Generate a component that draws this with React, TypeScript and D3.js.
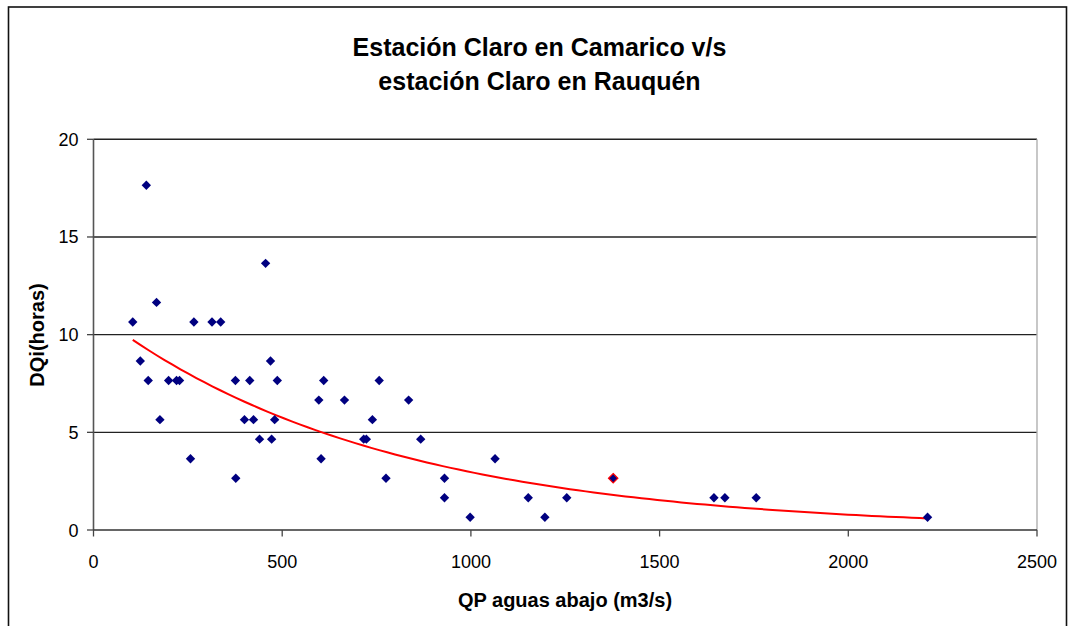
import React from "react";
import * as d3 from "d3";

const titleLines = ["Estación Claro en Camarico v/s", "estación Claro en Rauquén"];
const xAxisTitle = "QP aguas abajo (m3/s)";
const yAxisTitle = "DQi(horas)";

const xTicks = [0, 500, 1000, 1500, 2000, 2500];
const yTicks = [0, 5, 10, 15, 20];

// QP aguas abajo (m3/s)
const qpValues = [
  104, 124, 140, 145, 167, 176, 199, 220, 228, 257,
  266, 314, 337, 376, 377, 400, 414, 424, 440, 456,
  469, 472, 480, 487, 597, 603, 610, 665, 716, 723,
  739, 757, 775, 835, 867, 930, 930, 998, 1064, 1152,
  1196, 1254, 1377, 1644, 1673, 1756, 2210,
];
// DQi (horas)
const dqiValues = [
  10.65, 8.65, 17.65, 7.65, 11.65, 5.65, 7.65, 7.65, 7.65, 3.65,
  10.65, 10.65, 10.65, 7.65, 2.65, 5.65, 7.65, 5.65, 4.65, 13.65,
  8.65, 4.65, 5.65, 7.65, 6.65, 3.65, 7.65, 6.65, 4.65, 4.65,
  5.65, 7.65, 2.65, 6.65, 4.65, 2.65, 1.65, 0.65, 3.65, 1.65,
  0.65, 1.65, 2.65, 1.65, 1.65, 1.65, 0.65,
];
// index of the point drawn with a red outline
const highlighted = [42];

const W = 1068;
const H = 626;
const FONT = "'Liberation Sans', Arial, Helvetica, sans-serif";

export default function App() {
  const x = d3.scaleLinear().domain([0, 2500]).range([93.5, 1037]);
  const y = d3.scaleLinear().domain([0, 20]).range([530, 139.3]);

  const pts = qpValues.map((q, i) => ({ q, d: dqiValues[i], i }));

  // Exponential trendline fitted (least squares on ln y), like Excel
  const mx = d3.mean(pts, (p) => p.q) as number;
  const my = d3.mean(pts, (p) => Math.log(p.d)) as number;
  let sxy = 0;
  let sxx = 0;
  pts.forEach((p) => {
    sxy += (p.q - mx) * (Math.log(p.d) - my);
    sxx += (p.q - mx) * (p.q - mx);
  });
  const b = sxy / sxx;
  const lnA = my - b * mx;
  const [xmin, xmax] = d3.extent(qpValues) as [number, number];
  const trendX = d3.range(0, 101).map((k) => xmin + ((xmax - xmin) * k) / 100);
  const trendLine = d3
    .line<number>()
    .x((v) => x(v))
    .y((v) => y(Math.exp(lnA + b * v)))(trendX);

  const diamond = d3.symbol().type(d3.symbolDiamond2).size(56)() as string;

  return (
    <svg
      width={W}
      height={H}
      style={{ position: "absolute", left: 0, top: 0, background: "#fff" }}
      fontFamily={FONT}
    >
      <rect x={0} y={0} width={W} height={H} fill="#fff" />
      {/* outer chart border */}
      <rect x={8.5} y={7} width={1058} height={640} fill="none" stroke="#111" strokeWidth={1.6} />

      {/* title */}
      {titleLines.map((t, i) => (
        <text
          key={i}
          x={539.5}
          y={55.7 + i * 34}
          textAnchor="middle"
          fontSize={25}
          fontWeight="bold"
          fill="#000"
        >
          {t}
        </text>
      ))}

      {/* gridlines */}
      {yTicks
        .filter((t) => t > 0)
        .map((t) => (
          <line key={t} x1={x(0)} x2={x(2500)} y1={y(t)} y2={y(t)} stroke="#222" strokeWidth={1.4} />
        ))}
      {/* right plot border */}
      <line x1={x(2500)} x2={x(2500)} y1={y(20)} y2={y(0)} stroke="#b0b0b0" strokeWidth={1.4} />

      {/* axes */}
      <line x1={x(0)} x2={x(0)} y1={y(20)} y2={y(0)} stroke="#555" strokeWidth={1.6} />
      <line x1={x(0)} x2={x(2500)} y1={y(0)} y2={y(0)} stroke="#333" strokeWidth={1.6} />
      {yTicks.map((t) => (
        <g key={t}>
          <line x1={x(0) - 6.5} x2={x(0)} y1={y(t)} y2={y(t)} stroke="#444" strokeWidth={1.3} />
          <text x={78.5} y={y(t) + 6.5} textAnchor="end" fontSize={18} fill="#000">
            {t}
          </text>
        </g>
      ))}
      {xTicks.map((t) => (
        <g key={t}>
          <line x1={x(t)} x2={x(t)} y1={y(0)} y2={y(0) + 6.5} stroke="#444" strokeWidth={1.3} />
          <text x={x(t)} y={568} textAnchor="middle" fontSize={18} fill="#000">
            {t}
          </text>
        </g>
      ))}

      {/* axis titles */}
      <text x={565} y={607} textAnchor="middle" fontSize={20} fontWeight="bold" fill="#000">
        {xAxisTitle}
      </text>
      <text
        transform={`translate(44,335) rotate(-90)`}
        textAnchor="middle"
        fontSize={20}
        fontWeight="bold"
        fill="#000"
      >
        {yAxisTitle}
      </text>

      {/* trendline */}
      <path d={trendLine as string} fill="none" stroke="#ff0000" strokeWidth={2} />

      {/* points */}
      {pts.map((p) => (
        <path
          key={p.i}
          d={diamond}
          transform={`translate(${x(p.q)},${y(p.d)})`}
          fill="#000080"
          stroke={highlighted.includes(p.i) ? "#ff0000" : "none"}
          strokeWidth={1.2}
        />
      ))}
    </svg>
  );
}
